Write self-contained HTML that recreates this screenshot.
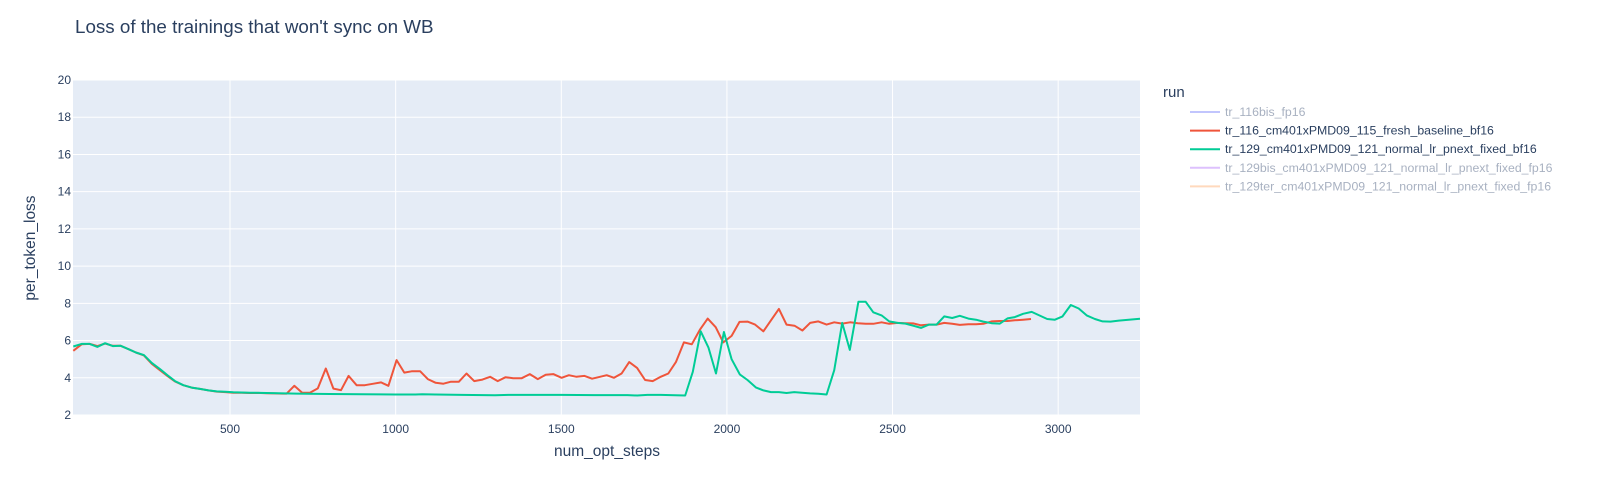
<!DOCTYPE html>
<html><head><meta charset="utf-8">
<style>
html,body{margin:0;padding:0;background:#fff;}
svg{display:block;font-family:"Liberation Sans",Arial,sans-serif;}
</style></head>
<body>
<svg id="chart" width="1600" height="479" viewBox="0 0 1600 479">
<text x="75" y="33" font-size="18.8" fill="#2a3f5f">Loss of the trainings that won't sync on WB</text>
<rect x="73" y="80" width="1067" height="335" fill="#e5ecf6"/>
<g id="grid"></g>
<g id="series"></g>
<g id="ticks"></g>
<text x="607" y="456" font-size="15.5" fill="#2a3f5f" text-anchor="middle">num_opt_steps</text>
<text transform="translate(35,248) rotate(-90)" font-size="15.5" fill="#2a3f5f" text-anchor="middle">per_token_loss</text>
<g id="legend">
<text x="1163" y="97" font-size="15" fill="#2a3f5f">run</text>
</g>
</svg>
<script>
const xTicks=[500,1000,1500,2000,2500,3000];
const yTicks=[2,4,6,8,10,12,14,16,18,20];
const runNames=["tr_116bis_fp16","tr_116_cm401xPMD09_115_fresh_baseline_bf16","tr_129_cm401xPMD09_121_normal_lr_pnext_fixed_bf16","tr_129bis_cm401xPMD09_121_normal_lr_pnext_fixed_fp16","tr_129ter_cm401xPMD09_121_normal_lr_pnext_fixed_fp16"];
const redSteps=[27,52,76,100,123,146,170,193,216,240,264,289,311,334,359,384,409,435,460,486,510,535,560,585,610,635,660,671,694,718,741,765,789,812,835,858,882,907,933,956,978,1003,1026,1048,1074,1097,1121,1144,1167,1191,1214,1237,1262,1285,1308,1332,1355,1380,1405,1429,1453,1476,1501,1523,1546,1570,1593,1617,1637,1659,1682,1705,1729,1753,1776,1800,1823,1846,1870,1894,1919,1942,1966,1989,2014,2038,2062,2085,2110,2133,2157,2180,2204,2228,2251,2276,2301,2324,2348,2372,2395,2419,2442,2467,2490,2515,2539,2562,2586,2610,2633,2656,2680,2703,2729,2752,2774,2799,2824,2847,2869,2894,2918];
const redLoss=[5.45,5.8,5.82,5.7,5.84,5.72,5.72,5.54,5.36,5.2,4.75,4.4,4.1,3.8,3.6,3.47,3.4,3.32,3.26,3.23,3.2,3.2,3.18,3.19,3.17,3.16,3.15,3.15,3.57,3.2,3.2,3.43,4.5,3.42,3.33,4.1,3.6,3.6,3.68,3.75,3.57,4.95,4.28,4.35,4.35,3.93,3.73,3.68,3.79,3.79,4.23,3.82,3.9,4.05,3.82,4.03,3.97,3.97,4.2,3.93,4.16,4.2,4.0,4.14,4.05,4.1,3.95,4.05,4.14,4.0,4.23,4.84,4.53,3.88,3.82,4.05,4.23,4.84,5.9,5.8,6.6,7.18,6.72,5.9,6.25,7.0,7.02,6.86,6.5,7.09,7.7,6.86,6.8,6.54,6.95,7.03,6.86,6.98,6.91,6.98,6.93,6.9,6.9,6.98,6.9,6.95,6.93,6.92,6.82,6.86,6.86,6.95,6.9,6.84,6.88,6.88,6.9,7.03,7.05,7.05,7.09,7.12,7.16];
const greenSteps=[27,52,76,100,123,146,170,193,216,240,264,289,311,334,359,384,409,435,460,486,510,560,610,700,800,900,1000,1060,1080,1120,1200,1300,1340,1500,1600,1700,1729,1760,1800,1874,1897,1921,1944,1967,1991,2014,2039,2062,2088,2110,2133,2157,2180,2203,2227,2251,2276,2301,2324,2348,2371,2397,2419,2442,2467,2490,2515,2539,2562,2586,2610,2633,2656,2680,2703,2729,2752,2774,2799,2824,2847,2869,2894,2920,2943,2967,2990,3013,3038,3062,3086,3111,3134,3158,3183,3247];
const greenLoss=[5.68,5.82,5.82,5.66,5.86,5.7,5.72,5.54,5.36,5.22,4.8,4.46,4.14,3.82,3.6,3.47,3.4,3.32,3.27,3.25,3.22,3.2,3.18,3.15,3.13,3.12,3.1,3.1,3.12,3.1,3.08,3.06,3.08,3.08,3.07,3.07,3.05,3.08,3.08,3.05,4.32,6.5,5.63,4.23,6.46,5.0,4.18,3.88,3.47,3.32,3.23,3.23,3.18,3.23,3.2,3.16,3.14,3.1,4.4,6.95,5.5,8.08,8.08,7.52,7.35,7.03,6.95,6.91,6.8,6.68,6.86,6.86,7.3,7.21,7.33,7.18,7.12,7.02,6.93,6.91,7.19,7.26,7.44,7.54,7.35,7.16,7.12,7.3,7.91,7.72,7.35,7.16,7.03,7.02,7.07,7.17];

const NS="http://www.w3.org/2000/svg";
const X0=73,X1=1140,Y0=415,Y1=80,XMIN=26,XMAX=3247,YMIN=2,YMAX=20;
const xs=v=>X0+(v-XMIN)/(XMAX-XMIN)*(X1-X0);
const ys=v=>Y0-(v-YMIN)/(YMAX-YMIN)*(Y0-Y1);
function mk(tag,attrs,parent){const e=document.createElementNS(NS,tag);for(const k in attrs)e.setAttribute(k,attrs[k]);parent.appendChild(e);return e;}
const grid=document.getElementById('grid'),ticks=document.getElementById('ticks'),ser=document.getElementById('series'),leg=document.getElementById('legend');
xTicks.forEach(t=>{
  const l=mk('line',{x1:xs(t),x2:xs(t),y1:Y1,y2:Y0,stroke:'#fff','stroke-width':1},grid);
  
  
  const tx=mk('text',{x:xs(t),y:Y0+18,'font-size':12,fill:'#2a3f5f','text-anchor':'middle'},ticks);
  tx.textContent=t;
  
  
});
yTicks.forEach(t=>{
  const l=mk('line',{x1:X0,x2:X1,y1:ys(t),y2:ys(t),stroke:'#fff','stroke-width':1},grid);
  
  
  const tx=mk('text',{x:X0-2,y:ys(t)+4,'font-size':12,fill:'#2a3f5f','text-anchor':'end'},ticks);
  tx.textContent=t;
  
  
});
function line(steps,vals,color,name){
  const d=steps.map((s,i)=>(i?'L':'M')+xs(s).toFixed(1)+','+ys(vals[i]).toFixed(1)).join('');
  const p=mk('path',{d:d,fill:'none',stroke:color,'stroke-width':2,'stroke-linejoin':'round'},ser);
  
  
}
line(redSteps,redLoss,'#EF553B','series-tr-116-bf16');
line(greenSteps,greenLoss,'#00CC96','series-tr-129-bf16');
const legColors=['#c1c5fd','#EF553B','#00CC96','#ddc1fd','#ffd9bd'];
const legText=['#a8b1c1','#2a3f5f','#2a3f5f','#a8b1c1','#a8b1c1'];
runNames.forEach((n,i)=>{
  const y=112+i*18.6;
  const g=mk('g',{},leg);
  
  
  mk('line',{x1:1190,x2:1220,y1:y,y2:y,stroke:legColors[i],'stroke-width':2},g);
  const t=mk('text',{x:1225,y:y+4,'font-size':12.3,fill:legText[i]},g);
  t.textContent=n;
});
</script>
</body></html>
